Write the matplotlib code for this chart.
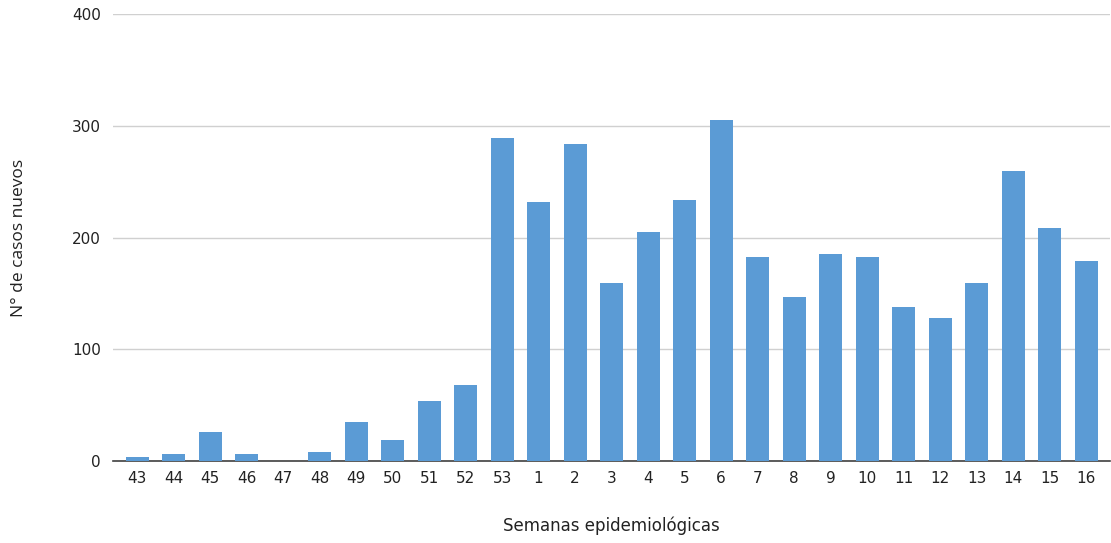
import matplotlib.pyplot as plt

semanas = ['43', '44', '45', '46', '47', '48', '49', '50', '51', '52', '53',
           '1', '2', '3', '4', '5', '6', '7', '8', '9', '10', '11', '12', '13',
           '14', '15', '16']
casos = [4, 6, 26, 6, 0, 8, 35, 19, 54, 68, 289,
         232, 284, 159, 205, 234, 305, 183, 147, 185, 183, 138, 128, 159,
         260, 209, 179]

plt.rcParams.update({'font.family': 'DejaVu Sans'})

fig = plt.figure(figsize=(11.11, 5.43), dpi=100)
ax = fig.add_axes([0.102, 0.151, 0.897, 0.823])

x = range(len(semanas))
ax.bar(x, casos, width=0.63, color='#5B9BD5', zorder=3)

ax.set_ylim(0, 400)
ax.set_yticks([0, 100, 200, 300, 400])
ax.set_xlim(-0.65, len(semanas) - 0.35)
ax.set_xticks(list(x))
ax.set_xticklabels(semanas)
ax.grid(axis='y', color='#d0d0d0', linewidth=1, zorder=0)

for s in ['top', 'right', 'left']:
    ax.spines[s].set_visible(False)
ax.spines['bottom'].set_color('#404040')
ax.spines['bottom'].set_linewidth(1.2)
ax.tick_params(axis='x', length=0, pad=7, labelsize=11, colors='#222222')
ax.tick_params(axis='y', length=0, pad=9, labelsize=11, colors='#222222')

ax.set_xlabel('Semanas epidemiológicas', fontsize=12, labelpad=22, color='#222222')
ax.set_ylabel('N° de casos nuevos', fontsize=12.5, family='Open Sans',
              labelpad=32, color='#222222')

plt.savefig('out.png', dpi=100)
